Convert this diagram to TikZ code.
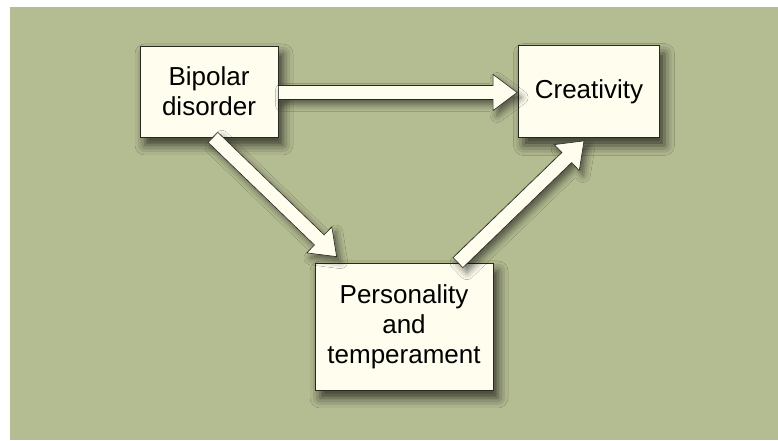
\documentclass[tikz,border=0pt]{standalone}
\usepackage{fontspec}
\setmainfont{Liberation Sans}
\usetikzlibrary{calc,shadows.blur}
\definecolor{sage}{RGB}{180,188,146}
\definecolor{cream}{RGB}{254,253,238}
\definecolor{edge}{RGB}{40,40,34}
\tikzset{
  box/.style={draw=edge, line width=0.8pt, fill=cream, inner sep=0pt, align=center,
    font=\fontsize{26}{30}\selectfont,
    blur shadow={shadow xshift=5pt, shadow yshift=-8pt, shadow blur radius=10pt, shadow opacity=70}},
  fatbody/.style={draw=edge, line width=0.6pt, fill=cream, line join=miter,
    blur shadow={shadow xshift=4pt, shadow yshift=-5pt, shadow blur radius=7pt, shadow opacity=55}}
}
% thick outlined arrow from #1 to #2
\newcommand{\fatarrow}[2]{%
  \coordinate (h) at ($(#2)!24pt!(#1)$);
  \draw[fatbody] ($(#1)!7pt!90:(#2)$) -- ($(h)!7pt!90:(#2)$) -- ($(h)!18pt!90:(#2)$)
    -- (#2) -- ($(h)!18pt!-90:(#2)$) -- ($(h)!7pt!-90:(#2)$) -- ($(#1)!7pt!-90:(#2)$) -- cycle;}
\begin{document}
\begin{tikzpicture}[x=1pt,y=1pt]
    \useasboundingbox (0,0) rectangle (778,441);
    \fill[sage] (10,1) rectangle (778,434);
    \node[box, minimum width=138pt, minimum height=91pt] (bip) at (209,349.5) {Bipolar\\disorder};
    \node[box, minimum width=141pt, minimum height=92pt] (cre) at (589,349.5) {Creativity};
    \node[box, minimum width=178pt, minimum height=127pt] (per) at (404,114.5) {Personality\\and\\temperament};
    \coordinate (b1) at ([yshift=-1pt]bip.east);
    \coordinate (c1) at ([xshift=-1pt,yshift=-1pt]cre.west);
    \coordinate (b2) at ([xshift=4pt]bip.south);
    \coordinate (p2) at ([xshift=22pt,yshift=6pt]per.north west);
    \coordinate (p3) at ([xshift=54pt]per.north);
    \coordinate (c3) at ([xshift=-5pt,yshift=-3pt]cre.south);
    \fatarrow{b1}{c1}
    \fatarrow{b2}{p2}
    \fatarrow{p3}{c3}
\end{tikzpicture}
\end{document}
